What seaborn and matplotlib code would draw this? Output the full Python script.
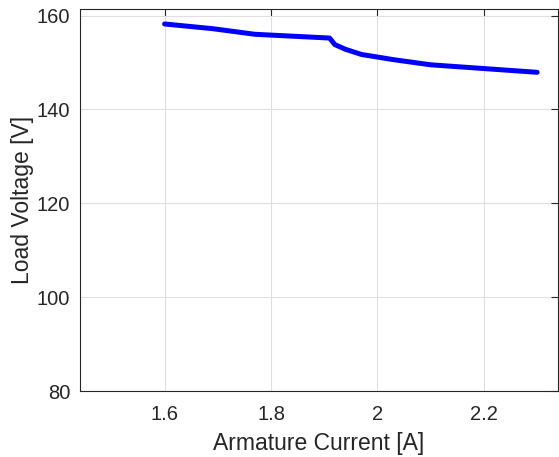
import matplotlib
matplotlib.use("Agg")
import matplotlib.pyplot as plt
import seaborn as sns
import pandas as pd

current = [1.60, 1.69, 1.77, 1.91, 1.92, 1.94, 1.97, 2.03, 2.10, 2.20, 2.30]
voltage = [158.2, 157.2, 156.0, 155.2, 153.8, 152.8, 151.7, 150.6, 149.5, 148.7, 147.9]
xticks = [1.6, 1.8, 2.0, 2.2]
xticklabels = ["1.6", "1.8", "2", "2.2"]
yticks = [80, 100, 120, 140, 160]

sns.set_theme(style="whitegrid")
plt.rcParams['font.family'] = ['Liberation Sans', 'DejaVu Sans']

df = pd.DataFrame({"I": current, "V": voltage})
fig = plt.figure(figsize=(5.59, 4.57), dpi=100)
ax = fig.add_axes([0.143, 0.1444, 0.855, 0.835])
sns.lineplot(data=df, x="I", y="V", ax=ax, color="#0000ff", linewidth=3.6, sort=False)

ax.set_xlim(1.441, 2.339)
ax.set_ylim(80, 161.3)
ax.set_xticks(xticks)
ax.set_xticklabels(xticklabels)
ax.set_yticks(yticks)
ax.set_xlabel("Armature Current [A]", fontsize=16.5, color="#262626", labelpad=5.5)
ax.set_ylabel("Load Voltage [V]", fontsize=16.5, color="#262626", labelpad=2)
ax.tick_params(axis="both", labelsize=14.5, colors="#262626", direction="in",
               length=5, width=0.8, top=True, right=True, labelcolor="#262626", pad=7)
ax.tick_params(axis="x", pad=10)
ax.grid(True, color="#dfdfdf", linewidth=0.8)
ax.set_facecolor("white")
for s in ax.spines.values():
    s.set_visible(True)
    s.set_color("#262626")
    s.set_linewidth(0.8)

fig.savefig("out.png", dpi=100, facecolor="white")
